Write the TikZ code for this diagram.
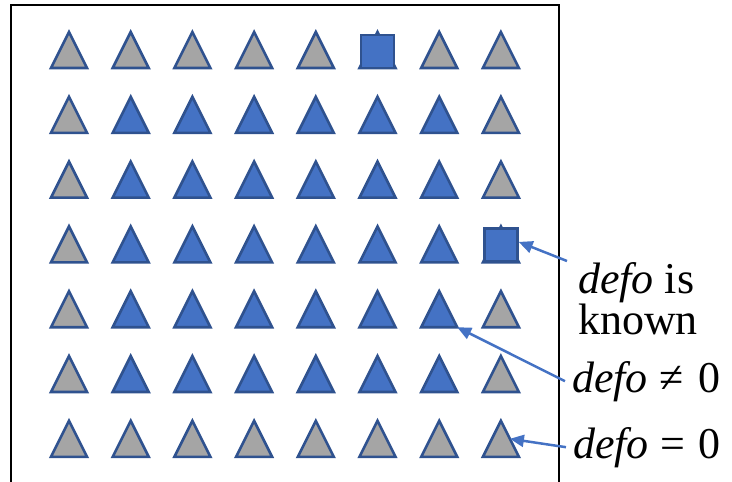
\documentclass[tikz,border=0pt]{standalone}
\usepackage{fontspec}
\setmainfont{Liberation Serif}
\usetikzlibrary{arrows.meta,calc}
\definecolor{cellBlue}{HTML}{4472C4}
\definecolor{cellGray}{HTML}{A5A5A5}
\definecolor{cellEdge}{HTML}{2F528F}

\begin{document}
\begin{tikzpicture}[x=1pt, y=-1pt, >={Triangle[length=14pt,width=12pt]},
	tri/.style={draw=cellEdge, line width=2.6pt},
	cellG/.style={fill=cellGray}, cellB/.style={fill=cellBlue},
	sq/.style={draw=cellEdge, fill=cellBlue, line width=2.6pt, minimum size=33pt, inner sep=0pt},
	lbl/.style={font=\fontsize{44}{37}\selectfont, inner sep=7pt},
	ptr/.style={->, draw=cellBlue, line width=2.5pt}]
	\useasboundingbox (0,0) rectangle (732,482);
	\draw[line width=2.8pt] (11,482) |- (559,5) -- (559,482);
	% grid of cells, row by row
	\foreach \row/\cols in {1/{G,G,G,G,G,B,G,G}, 2/{G,B,B,B,B,B,B,G}, 3/{G,B,B,B,B,B,B,G},
		4/{G,B,B,B,B,B,B,B}, 5/{G,B,B,B,B,B,B,G}, 6/{G,B,B,B,B,B,B,G}, 7/{G,G,G,G,G,G,G,G}} {
		\foreach \kind [count=\col from 0] in \cols {
			\pgfmathsetmacro\x{69+61.7*\col}
			\pgfmathsetmacro\y{50+64.8*(\row-1)}
			\coordinate (t\row\col) at (\x,\y);
			\draw[tri, cell\kind] (\x-18,\y+18) -- (\x,\y-18) -- (\x+18,\y+18) -- cycle;
		}
	}
	\node[sq] (sqTop) at ($(t15)+(0,1.5)$) {};
	\node[sq] (sqSide) at ($(t47)+(0,0.5)$) {};
	% labels
	\node[lbl, anchor=north west, align=left] (known) at (571,255) {\textit{defo} is\\known};
	\node[lbl, anchor=base west] (neq) at (565,392) {\textit{defo}\hspace{12pt}≠\hspace{14pt}0};
	\node[lbl, anchor=base west] (eq) at (566,458) {\textit{defo}\hspace{12pt}=\hspace{13pt}0};
	\draw[ptr] ($(known.north west)+(-4,6)$) -- ($(sqSide.east)+(0,-3)$);
	\draw[ptr] (neq.west) -- ($(t56)+(18,18)$);
	\draw[ptr] (eq.west) -- ($(t77)+(9,0)$);
\end{tikzpicture}
\end{document}
